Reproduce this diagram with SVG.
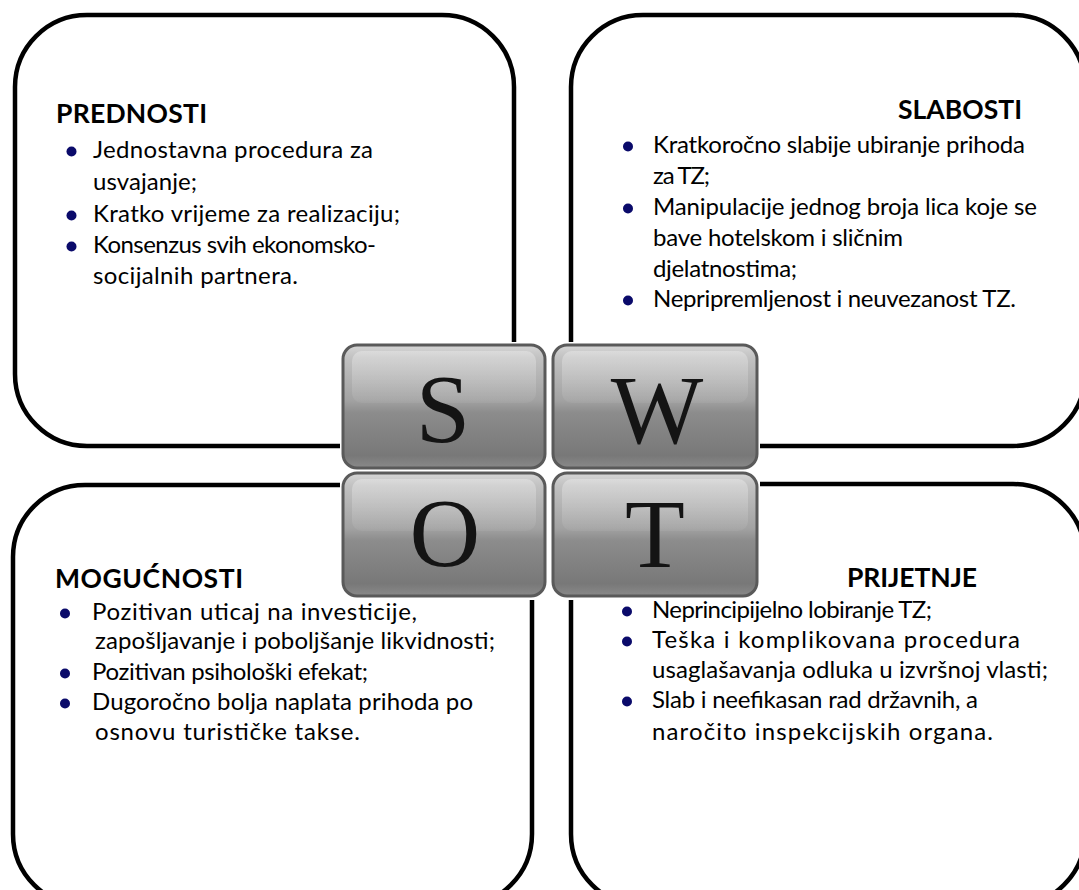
<svg xmlns="http://www.w3.org/2000/svg" width="1079" height="890" viewBox="0 0 1079 890">
<style>
.box{fill:#ffffff;stroke:#000000;stroke-width:4.5}
.h{font-family:Lato,"Liberation Sans",sans-serif;font-weight:bold;font-size:26.5px;fill:#000}
.t{font-family:Lato,"Liberation Sans",sans-serif;font-size:24px;fill:#000}
.b{fill:#0a0a6a}
.tile{fill:url(#tileFill);stroke:#5a5a5a;stroke-width:3}
.gloss{fill:url(#gloss)}
.L{font-family:"Liberation Serif","Times New Roman",serif;font-size:98px;fill:#141414;text-anchor:middle}
</style>
<defs>
<linearGradient id="tileFill" x1="0" y1="0" x2="0" y2="1">
<stop offset="0" stop-color="#d6d6d6"/>
<stop offset="0.1" stop-color="#c2c2c2"/>
<stop offset="0.45" stop-color="#a2a2a2"/>
<stop offset="0.55" stop-color="#8c8c8c"/>
<stop offset="0.9" stop-color="#787878"/>
<stop offset="1" stop-color="#8a8a8a"/>
</linearGradient>
<linearGradient id="gloss" x1="0" y1="0" x2="0" y2="1">
<stop offset="0" stop-color="#ffffff" stop-opacity="0.3"/>
<stop offset="1" stop-color="#ffffff" stop-opacity="0.05"/>
</linearGradient>
</defs>
<rect width="1079" height="890" fill="#ffffff"/>
<g id="connectors"/>
<g id="box-prednosti">
<rect class="box" x="15" y="15" width="499" height="431" rx="72" ry="72"/>
<text class="h" x="56" y="123" textLength="151">PREDNOSTI</text>
<circle class="b" cx="71.5" cy="151.5" r="5"/>
<circle class="b" cx="71.5" cy="215.5" r="5"/>
<circle class="b" cx="71.5" cy="246.5" r="5"/>
<text class="t" x="93" y="158" textLength="280">Jednostavna procedura za</text>
<text class="t" x="93" y="190" textLength="104">usvajanje;</text>
<text class="t" x="93" y="222" textLength="307">Kratko vrijeme za realizaciju;</text>
<text class="t" x="93" y="253" textLength="283">Konsenzus svih ekonomsko-</text>
<text class="t" x="93" y="284" textLength="205">socijalnih partnera.</text>
</g>
<g id="box-slabosti">
<rect class="box" x="571" y="15" width="514" height="431" rx="72" ry="72"/>
<text class="h" x="898" y="119" textLength="124">SLABOSTI</text>
<circle class="b" cx="628" cy="146.5" r="5"/>
<circle class="b" cx="628" cy="208.5" r="5"/>
<circle class="b" cx="628" cy="300.5" r="5"/>
<text class="t" x="653" y="153" textLength="372">Kratkoročno slabije ubiranje prihoda</text>
<text class="t" x="653" y="184" textLength="57">za TZ;</text>
<text class="t" x="653" y="215" textLength="384">Manipulacije jednog broja lica koje se</text>
<text class="t" x="653" y="246" textLength="250">bave hotelskom i sličnim</text>
<text class="t" x="653" y="277" textLength="144">djelatnostima;</text>
<text class="t" x="653" y="307" textLength="363">Nepripremljenost i neuvezanost TZ.</text>
</g>
<g id="box-mogucnosti">
<rect class="box" x="13" y="485" width="519" height="421" rx="72" ry="72"/>
<text class="h" x="55" y="588" textLength="188">MOGUĆNOSTI</text>
<circle class="b" cx="65" cy="613.5" r="5"/>
<circle class="b" cx="65" cy="673.5" r="5"/>
<circle class="b" cx="65" cy="703.5" r="5"/>
<text class="t" x="92" y="620" textLength="325">Pozitivan uticaj na investicije,</text>
<text class="t" x="95" y="649" textLength="400">zapošljavanje i poboljšanje likvidnosti;</text>
<text class="t" x="92" y="680" textLength="276">Pozitivan psihološki efekat;</text>
<text class="t" x="92" y="710" textLength="381">Dugoročno bolja naplata prihoda po</text>
<text class="t" x="95" y="740" textLength="265">osnovu turističke takse.</text>
</g>
<g id="box-prijetnje">
<rect class="box" x="571" y="484" width="514" height="422" rx="72" ry="72"/>
<text class="h" x="847" y="587" textLength="130">PRIJETNJE</text>
<circle class="b" cx="627" cy="611.5" r="5"/>
<circle class="b" cx="627" cy="641.5" r="5"/>
<circle class="b" cx="627" cy="701.5" r="5"/>
<text class="t" x="652" y="618" textLength="280">Neprincipijelno lobiranje TZ;</text>
<text class="t" x="652" y="648" textLength="368">Teška i komplikovana procedura</text>
<text class="t" x="652" y="678" textLength="396">usaglašavanja odluka u izvršnoj vlasti;</text>
<text class="t" x="652" y="708" textLength="326">Slab i neefikasan rad državnih, a</text>
<text class="t" x="652" y="740" textLength="341">naročito inspekcijskih organa.</text>
</g>
<g id="swot-image">
<rect x="340" y="342" width="420" height="258" fill="#ffffff"/>
<g id="tile-s">
<rect class="tile" x="343" y="345" width="202" height="123" rx="14" ry="14"/>
<rect class="gloss" x="352" y="351" width="184" height="52" rx="10" ry="10"/>
<text class="L" x="443" y="442">S</text>
</g>
<g id="tile-w">
<rect class="tile" x="553" y="345" width="204" height="123" rx="14" ry="14"/>
<rect class="gloss" x="562" y="351" width="186" height="52" rx="10" ry="10"/>
<text class="L" x="657" y="443">W</text>
</g>
<g id="tile-o">
<rect class="tile" x="343" y="473" width="202" height="123" rx="14" ry="14"/>
<rect class="gloss" x="352" y="479" width="184" height="52" rx="10" ry="10"/>
<text class="L" x="445" y="566">O</text>
</g>
<g id="tile-t">
<rect class="tile" x="553" y="473" width="204" height="123" rx="14" ry="14"/>
<rect class="gloss" x="562" y="479" width="186" height="52" rx="10" ry="10"/>
<text class="L" x="655" y="567">T</text>
</g>
</g>
</svg>
